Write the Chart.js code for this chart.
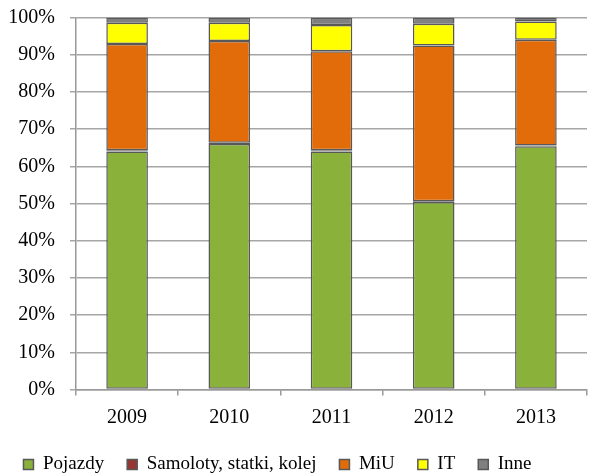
<!DOCTYPE html>
<html>
<head>
<meta charset="utf-8">
<script src="https://cdn.jsdelivr.net/npm/chart.js@4"></script>
<style>
  html, body { margin: 0; padding: 0; background: #fff; }
  #wrap { width: 592px; height: 476px; }
</style>
</head>
<body>
<div id="wrap"><canvas id="myChart" width="592" height="476"></canvas></div>
<script>
// ---------- data
const years = ["2009", "2010", "2011", "2012", "2013"];
const pojazdy = [64.0, 66.0, 64.0, 50.4, 65.4];
const samoloty = [0.3, 0.3, 0.3, 0.2, 0.2];
const miu = [28.6, 27.4, 26.6, 41.9, 28.4];
const it = [5.7, 4.9, 7.1, 5.8, 4.9];
const inne = [1.4, 1.4, 2.0, 1.7, 1.1];
const yTicks = [0, 10, 20, 30, 40, 50, 60, 70, 80, 90, 100];

const fontFam = "'Liberation Serif', 'Times New Roman', serif";

function series(label, data, color) {
  return {
    label: label,
    data: data,
    backgroundColor: color,
    borderColor: "#585858",
    borderWidth: 1.5,
    borderSkipped: false,
    categoryPercentage: 1,
    barPercentage: 0.407,
  };
}

// nudge the legend to where the original has it
const legendShift = {
  id: "legendShift",
  afterUpdate(chart) {
    const l = chart.legend;
    l.left -= 16; l.right -= 16;
    l.top += 8; l.bottom += 8;
  },
};

const ctx = document.getElementById("myChart");
new Chart(ctx, {
  type: "bar",
  data: {
    labels: years,
    datasets: [
      series("Pojazdy", pojazdy, "#8AB13A"),
      series("Samoloty, statki, kolej", samoloty, "#953735"),
      series("MiU", miu, "#E36C0A"),
      series("IT", it, "#FFFF00"),
      series("Inne", inne, "#808080"),
    ],
  },
  plugins: [legendShift],
  options: {
    responsive: false,
    animation: false,
    layout: { padding: { left: 0, right: 5, top: 0, bottom: 0 } },
    plugins: {
      tooltip: { enabled: false },
      legend: {
        position: "bottom",
        labels: {
          color: "#000",
          font: { family: fontFam, size: 19 },
          boxWidth: 10,
          boxHeight: 10,
          padding: 23,
        },
      },
    },
    scales: {
      x: {
        stacked: true,
        afterFit: (scale) => {
          scale.height = 34.5;
        },
        grid: {
          offset: true,
          drawOnChartArea: false,
          drawTicks: true,
          tickLength: 6,
          color: "#999",
          lineWidth: 1.5,
        },
        border: { color: "#999", width: 1.5 },
        ticks: { color: "#000", font: { family: fontFam, size: 20 }, padding: 10 },
      },
      y: {
        stacked: true,
        min: 0,
        max: 100,
        afterBuildTicks: (axis) => {
          axis.ticks = yTicks.map((v) => ({ value: v }));
        },
        afterFit: (scale) => {
          scale.width = 76;
          scale.paddingTop = 17.5;
          scale.paddingBottom = 0;
        },
        grid: { color: "#a6a6a6", lineWidth: 1.5, tickLength: 6 },
        border: { color: "#999", width: 1.5 },
        ticks: {
          color: "#000",
          font: { family: fontFam, size: 20 },
          padding: 15,
          callback: (v) => v + "%",
        },
      },
    },
  },
});
</script>
</body>
</html>
